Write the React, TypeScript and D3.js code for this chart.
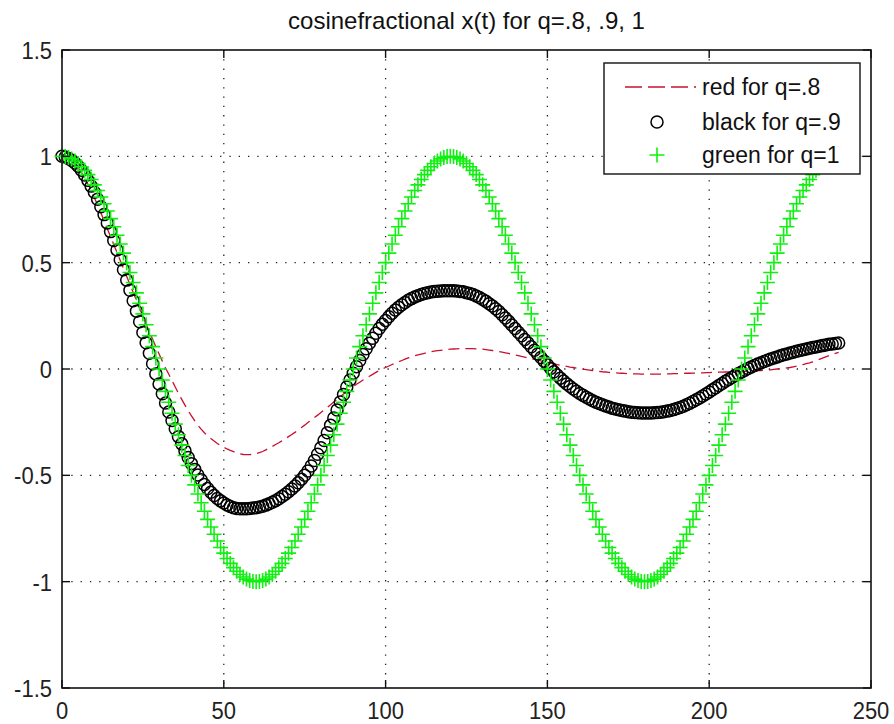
import React from 'react';
import * as d3 from 'd3';

// one sample per unit of t, 0..240
const tSteps = d3.range(0, 241);

// q = .8 (red dashed)
const redValues = [
  1.0, 0.997, 0.99, 0.979, 0.965, 0.947, 0.925, 0.899, 0.87, 0.839, 0.805, 0.771, 0.735, 0.698, 0.66, 0.623,
  0.585, 0.548, 0.51, 0.473, 0.435, 0.398, 0.36, 0.323, 0.285, 0.248, 0.21, 0.175, 0.14, 0.105, 0.07,
  0.037, 0.005, -0.025, -0.055, -0.085, -0.115, -0.143, -0.17, -0.196, -0.22, -0.243, -0.265, -0.283, -0.3, -0.314,
  -0.327, -0.339, -0.35, -0.36, -0.368, -0.376, -0.383, -0.389, -0.395, -0.399, -0.402, -0.403, -0.403, -0.401, -0.398,
  -0.393, -0.388, -0.38, -0.372, -0.364, -0.355, -0.347, -0.338, -0.328, -0.318, -0.308, -0.298, -0.287, -0.275, -0.264,
  -0.252, -0.24, -0.228, -0.217, -0.205, -0.193, -0.18, -0.168, -0.155, -0.143, -0.13, -0.118, -0.106, -0.094, -0.083,
  -0.072, -0.062, -0.052, -0.043, -0.034, -0.025, -0.016, -0.008, 0.0, 0.007, 0.014, 0.021, 0.028, 0.034, 0.04,
  0.046, 0.052, 0.057, 0.062, 0.066, 0.07, 0.074, 0.078, 0.081, 0.084, 0.086, 0.088, 0.09, 0.092, 0.093,
  0.094, 0.095, 0.096, 0.096, 0.096, 0.096, 0.096, 0.095, 0.094, 0.093, 0.091, 0.089, 0.087, 0.085, 0.082,
  0.079, 0.076, 0.073, 0.07, 0.066, 0.063, 0.059, 0.056, 0.052, 0.049, 0.045, 0.042, 0.038, 0.035, 0.031,
  0.028, 0.024, 0.021, 0.018, 0.015, 0.012, 0.009, 0.007, 0.004, 0.002, -0.001, -0.003, -0.005, -0.007, -0.009,
  -0.011, -0.013, -0.014, -0.016, -0.017, -0.018, -0.019, -0.02, -0.021, -0.022, -0.022, -0.023, -0.023, -0.024, -0.024,
  -0.024, -0.024, -0.024, -0.024, -0.024, -0.024, -0.023, -0.023, -0.022, -0.022, -0.021, -0.021, -0.02, -0.02, -0.019,
  -0.019, -0.018, -0.018, -0.017, -0.017, -0.016, -0.016, -0.015, -0.015, -0.014, -0.014, -0.013, -0.013, -0.012, -0.012,
  -0.011, -0.011, -0.01, -0.009, -0.008, -0.007, -0.006, -0.005, -0.004, -0.002, 0.0, 0.001, 0.003, 0.005, 0.007,
  0.01, 0.013, 0.017, 0.021, 0.025, 0.029, 0.034, 0.039, 0.045, 0.051, 0.057, 0.063, 0.068, 0.073, 0.078,
];

// q = .9 (black circles)
const blackValues = [
  1.0, 0.997, 0.99, 0.981, 0.969, 0.953, 0.935, 0.912, 0.887, 0.86, 0.831, 0.798, 0.763, 0.726, 0.687, 0.646,
  0.604, 0.56, 0.514, 0.467, 0.418, 0.37, 0.321, 0.272, 0.222, 0.172, 0.123, 0.074, 0.025, -0.023, -0.071,
  -0.116, -0.16, -0.202, -0.242, -0.281, -0.318, -0.352, -0.385, -0.416, -0.445, -0.472, -0.498, -0.521, -0.543, -0.562,
  -0.58, -0.595, -0.609, -0.62, -0.63, -0.639, -0.647, -0.652, -0.656, -0.657, -0.657, -0.657, -0.656, -0.654, -0.652,
  -0.649, -0.645, -0.64, -0.634, -0.627, -0.619, -0.61, -0.6, -0.589, -0.577, -0.564, -0.55, -0.535, -0.518, -0.5,
  -0.48, -0.456, -0.43, -0.401, -0.37, -0.336, -0.3, -0.265, -0.23, -0.193, -0.155, -0.12, -0.085, -0.052, -0.02,
  0.011, 0.04, 0.068, 0.095, 0.121, 0.145, 0.168, 0.19, 0.21, 0.228, 0.246, 0.262, 0.277, 0.29, 0.302,
  0.313, 0.323, 0.331, 0.339, 0.345, 0.35, 0.355, 0.359, 0.362, 0.364, 0.366, 0.367, 0.368, 0.368, 0.368,
  0.368, 0.367, 0.365, 0.363, 0.359, 0.355, 0.35, 0.343, 0.336, 0.327, 0.318, 0.307, 0.296, 0.283, 0.27,
  0.255, 0.24, 0.224, 0.207, 0.19, 0.173, 0.156, 0.139, 0.122, 0.105, 0.088, 0.071, 0.054, 0.037, 0.02,
  0.003, -0.013, -0.028, -0.043, -0.057, -0.07, -0.082, -0.094, -0.105, -0.115, -0.124, -0.133, -0.141, -0.149, -0.156,
  -0.162, -0.168, -0.174, -0.179, -0.184, -0.188, -0.192, -0.195, -0.198, -0.201, -0.203, -0.205, -0.206, -0.207, -0.207,
  -0.207, -0.207, -0.206, -0.205, -0.203, -0.201, -0.198, -0.195, -0.191, -0.186, -0.181, -0.175, -0.168, -0.161, -0.153,
  -0.145, -0.136, -0.127, -0.118, -0.108, -0.098, -0.088, -0.078, -0.068, -0.058, -0.049, -0.04, -0.031, -0.022, -0.014,
  -0.006, 0.002, 0.009, 0.016, 0.023, 0.029, 0.035, 0.041, 0.047, 0.052, 0.057, 0.062, 0.067, 0.071, 0.075,
  0.079, 0.083, 0.087, 0.091, 0.094, 0.098, 0.101, 0.104, 0.107, 0.11, 0.113, 0.116, 0.118, 0.12, 0.122,
];

// q = 1 (green plus)
const greenValues = [
  1, 0.999, 0.995, 0.988, 0.978, 0.966, 0.951, 0.934, 0.914, 0.891, 0.866, 0.839, 0.809, 0.777, 0.743, 0.707,
  0.669, 0.629, 0.588, 0.545, 0.5, 0.454, 0.407, 0.358, 0.309, 0.259, 0.208, 0.156, 0.105, 0.052, 0,
  -0.052, -0.105, -0.156, -0.208, -0.259, -0.309, -0.358, -0.407, -0.454, -0.5, -0.545, -0.588, -0.629, -0.669, -0.707,
  -0.743, -0.777, -0.809, -0.839, -0.866, -0.891, -0.914, -0.934, -0.951, -0.966, -0.978, -0.988, -0.995, -0.999, -1,
  -0.999, -0.995, -0.988, -0.978, -0.966, -0.951, -0.934, -0.914, -0.891, -0.866, -0.839, -0.809, -0.777, -0.743, -0.707,
  -0.669, -0.629, -0.588, -0.545, -0.5, -0.454, -0.407, -0.358, -0.309, -0.259, -0.208, -0.156, -0.105, -0.052, 0,
  0.052, 0.105, 0.156, 0.208, 0.259, 0.309, 0.358, 0.407, 0.454, 0.5, 0.545, 0.588, 0.629, 0.669, 0.707,
  0.743, 0.777, 0.809, 0.839, 0.866, 0.891, 0.914, 0.934, 0.951, 0.966, 0.978, 0.988, 0.995, 0.999, 1,
  0.999, 0.995, 0.988, 0.978, 0.966, 0.951, 0.934, 0.914, 0.891, 0.866, 0.839, 0.809, 0.777, 0.743, 0.707,
  0.669, 0.629, 0.588, 0.545, 0.5, 0.454, 0.407, 0.358, 0.309, 0.259, 0.208, 0.156, 0.105, 0.052, 0,
  -0.052, -0.105, -0.156, -0.208, -0.259, -0.309, -0.358, -0.407, -0.454, -0.5, -0.545, -0.588, -0.629, -0.669, -0.707,
  -0.743, -0.777, -0.809, -0.839, -0.866, -0.891, -0.914, -0.934, -0.951, -0.966, -0.978, -0.988, -0.995, -0.999, -1,
  -0.999, -0.995, -0.988, -0.978, -0.966, -0.951, -0.934, -0.914, -0.891, -0.866, -0.839, -0.809, -0.777, -0.743, -0.707,
  -0.669, -0.629, -0.588, -0.545, -0.5, -0.454, -0.407, -0.358, -0.309, -0.259, -0.208, -0.156, -0.105, -0.052, 0,
  0.052, 0.105, 0.156, 0.208, 0.259, 0.309, 0.358, 0.407, 0.454, 0.5, 0.545, 0.588, 0.629, 0.669, 0.707,
  0.743, 0.777, 0.809, 0.839, 0.866, 0.891, 0.914, 0.934, 0.951, 0.966, 0.978, 0.988, 0.995, 0.999, 1,
];

const xTicks = [0, 50, 100, 150, 200, 250];
const yTicks = [-1.5, -1, -0.5, 0, 0.5, 1, 1.5];
const legendLabels = ['red for q=.8', 'black for q=.9', 'green for q=1'];
const title = 'cosinefractional x(t) for q=.8, .9, 1';

const W = 894;
const H = 724;
const FONT = 'Liberation Sans, Arial, Helvetica, sans-serif';
const RED = '#c8102e';
const GREEN = '#10f010';

export default function App() {
  const x = d3.scaleLinear().domain([0, 250]).range([62, 871]);
  const y = d3.scaleLinear().domain([-1.5, 1.5]).range([688, 50]);
  const [x0, x1] = x.range();
  const [y0, y1] = y.range();

  const redLine = d3.line<number>()
    .x((d, i) => x(tSteps[i]))
    .y(d => y(d));

  const tickLen = 8;
  const crossPath = (cx: number, cy: number, s: number) =>
    `M${cx - s},${cy}H${cx + s}M${cx},${cy - s}V${cy + s}`;

  // legend geometry
  const lg = { x: 604, y: 63, w: 256, h: 111 };
  const rowY = [87, 122, 155];

  // MATLAB-like tall digits: stretch the tick labels a little vertically
  const tall = (tx: number, ty: number) => `translate(${tx},${ty}) scale(1,1.12)`;

  return (
    <svg width={W} height={H} style={{ position: 'absolute', left: 0, top: 0, background: '#fff' }}
      fontFamily={FONT}>
      <rect x={0} y={0} width={W} height={H} fill="#fff" />

      {/* grid */}
      {xTicks.filter(t => t > 0 && t < 250).map(t => (
        <line key={'gx' + t} x1={x(t)} x2={x(t)} y1={y1} y2={y0}
          stroke="#222" strokeWidth={1.3} strokeDasharray="1.3,8" />
      ))}
      {yTicks.filter(t => t > -1.5 && t < 1.5).map(t => (
        <line key={'gy' + t} x1={x0} x2={x1} y1={y(t)} y2={y(t)}
          stroke="#222" strokeWidth={1.3} strokeDasharray="1.3,8" />
      ))}

      {/* red q=.8 */}
      <path d={redLine(redValues) || ''} fill="none" stroke={RED} strokeWidth={1.3}
        strokeDasharray="11,6" />

      {/* black q=.9 */}
      {blackValues.map((v, i) => (
        <circle key={'b' + i} cx={x(tSteps[i])} cy={y(v)} r={6}
          fill="none" stroke="#000" strokeWidth={1.5} />
      ))}

      {/* green q=1 */}
      <path d={greenValues.map((v, i) => crossPath(x(tSteps[i]), y(v), 7.5)).join('')}
        fill="none" stroke={GREEN} strokeWidth={1.6} />

      {/* axes box + ticks */}
      <rect x={x0} y={y1} width={x1 - x0} height={y0 - y1} fill="none" stroke="#111" strokeWidth={1.6} />
      {xTicks.map(t => (
        <g key={'tx' + t}>
          <line x1={x(t)} x2={x(t)} y1={y0} y2={y0 - tickLen} stroke="#111" strokeWidth={1.4} />
          <line x1={x(t)} x2={x(t)} y1={y1} y2={y1 + tickLen} stroke="#111" strokeWidth={1.4} />
          <text transform={tall(x(t), y0 + 31)} textAnchor="middle" fontSize={22} fill="#222">{t}</text>
        </g>
      ))}
      {yTicks.map(t => (
        <g key={'ty' + t}>
          <line x1={x0} x2={x0 + tickLen} y1={y(t)} y2={y(t)} stroke="#111" strokeWidth={1.4} />
          <line x1={x1} x2={x1 - tickLen} y1={y(t)} y2={y(t)} stroke="#111" strokeWidth={1.4} />
          <text transform={tall(x0 - 10, y(t) + 9)} textAnchor="end" fontSize={22} fill="#222">{t}</text>
        </g>
      ))}

      {/* title */}
      <text x={(x0 + x1) / 2} y={29} textAnchor="middle" fontSize={24} fill="#111">{title}</text>

      {/* legend */}
      <rect x={lg.x} y={lg.y} width={lg.w} height={lg.h} fill="#fff" stroke="#111" strokeWidth={1.4} />
      <line x1={625} x2={696} y1={rowY[0]} y2={rowY[0]} stroke={RED} strokeWidth={1.3} strokeDasharray="17,6" />
      <circle cx={657} cy={rowY[1]} r={6} fill="none" stroke="#000" strokeWidth={1.5} />
      <path d={crossPath(657, rowY[2], 7.5)} stroke={GREEN} strokeWidth={1.6} fill="none" />
      {legendLabels.map((l, i) => (
        <text key={l} x={702} y={rowY[i]} dy="0.36em" fontSize={23} fill="#111">{l}</text>
      ))}
    </svg>
  );
}
